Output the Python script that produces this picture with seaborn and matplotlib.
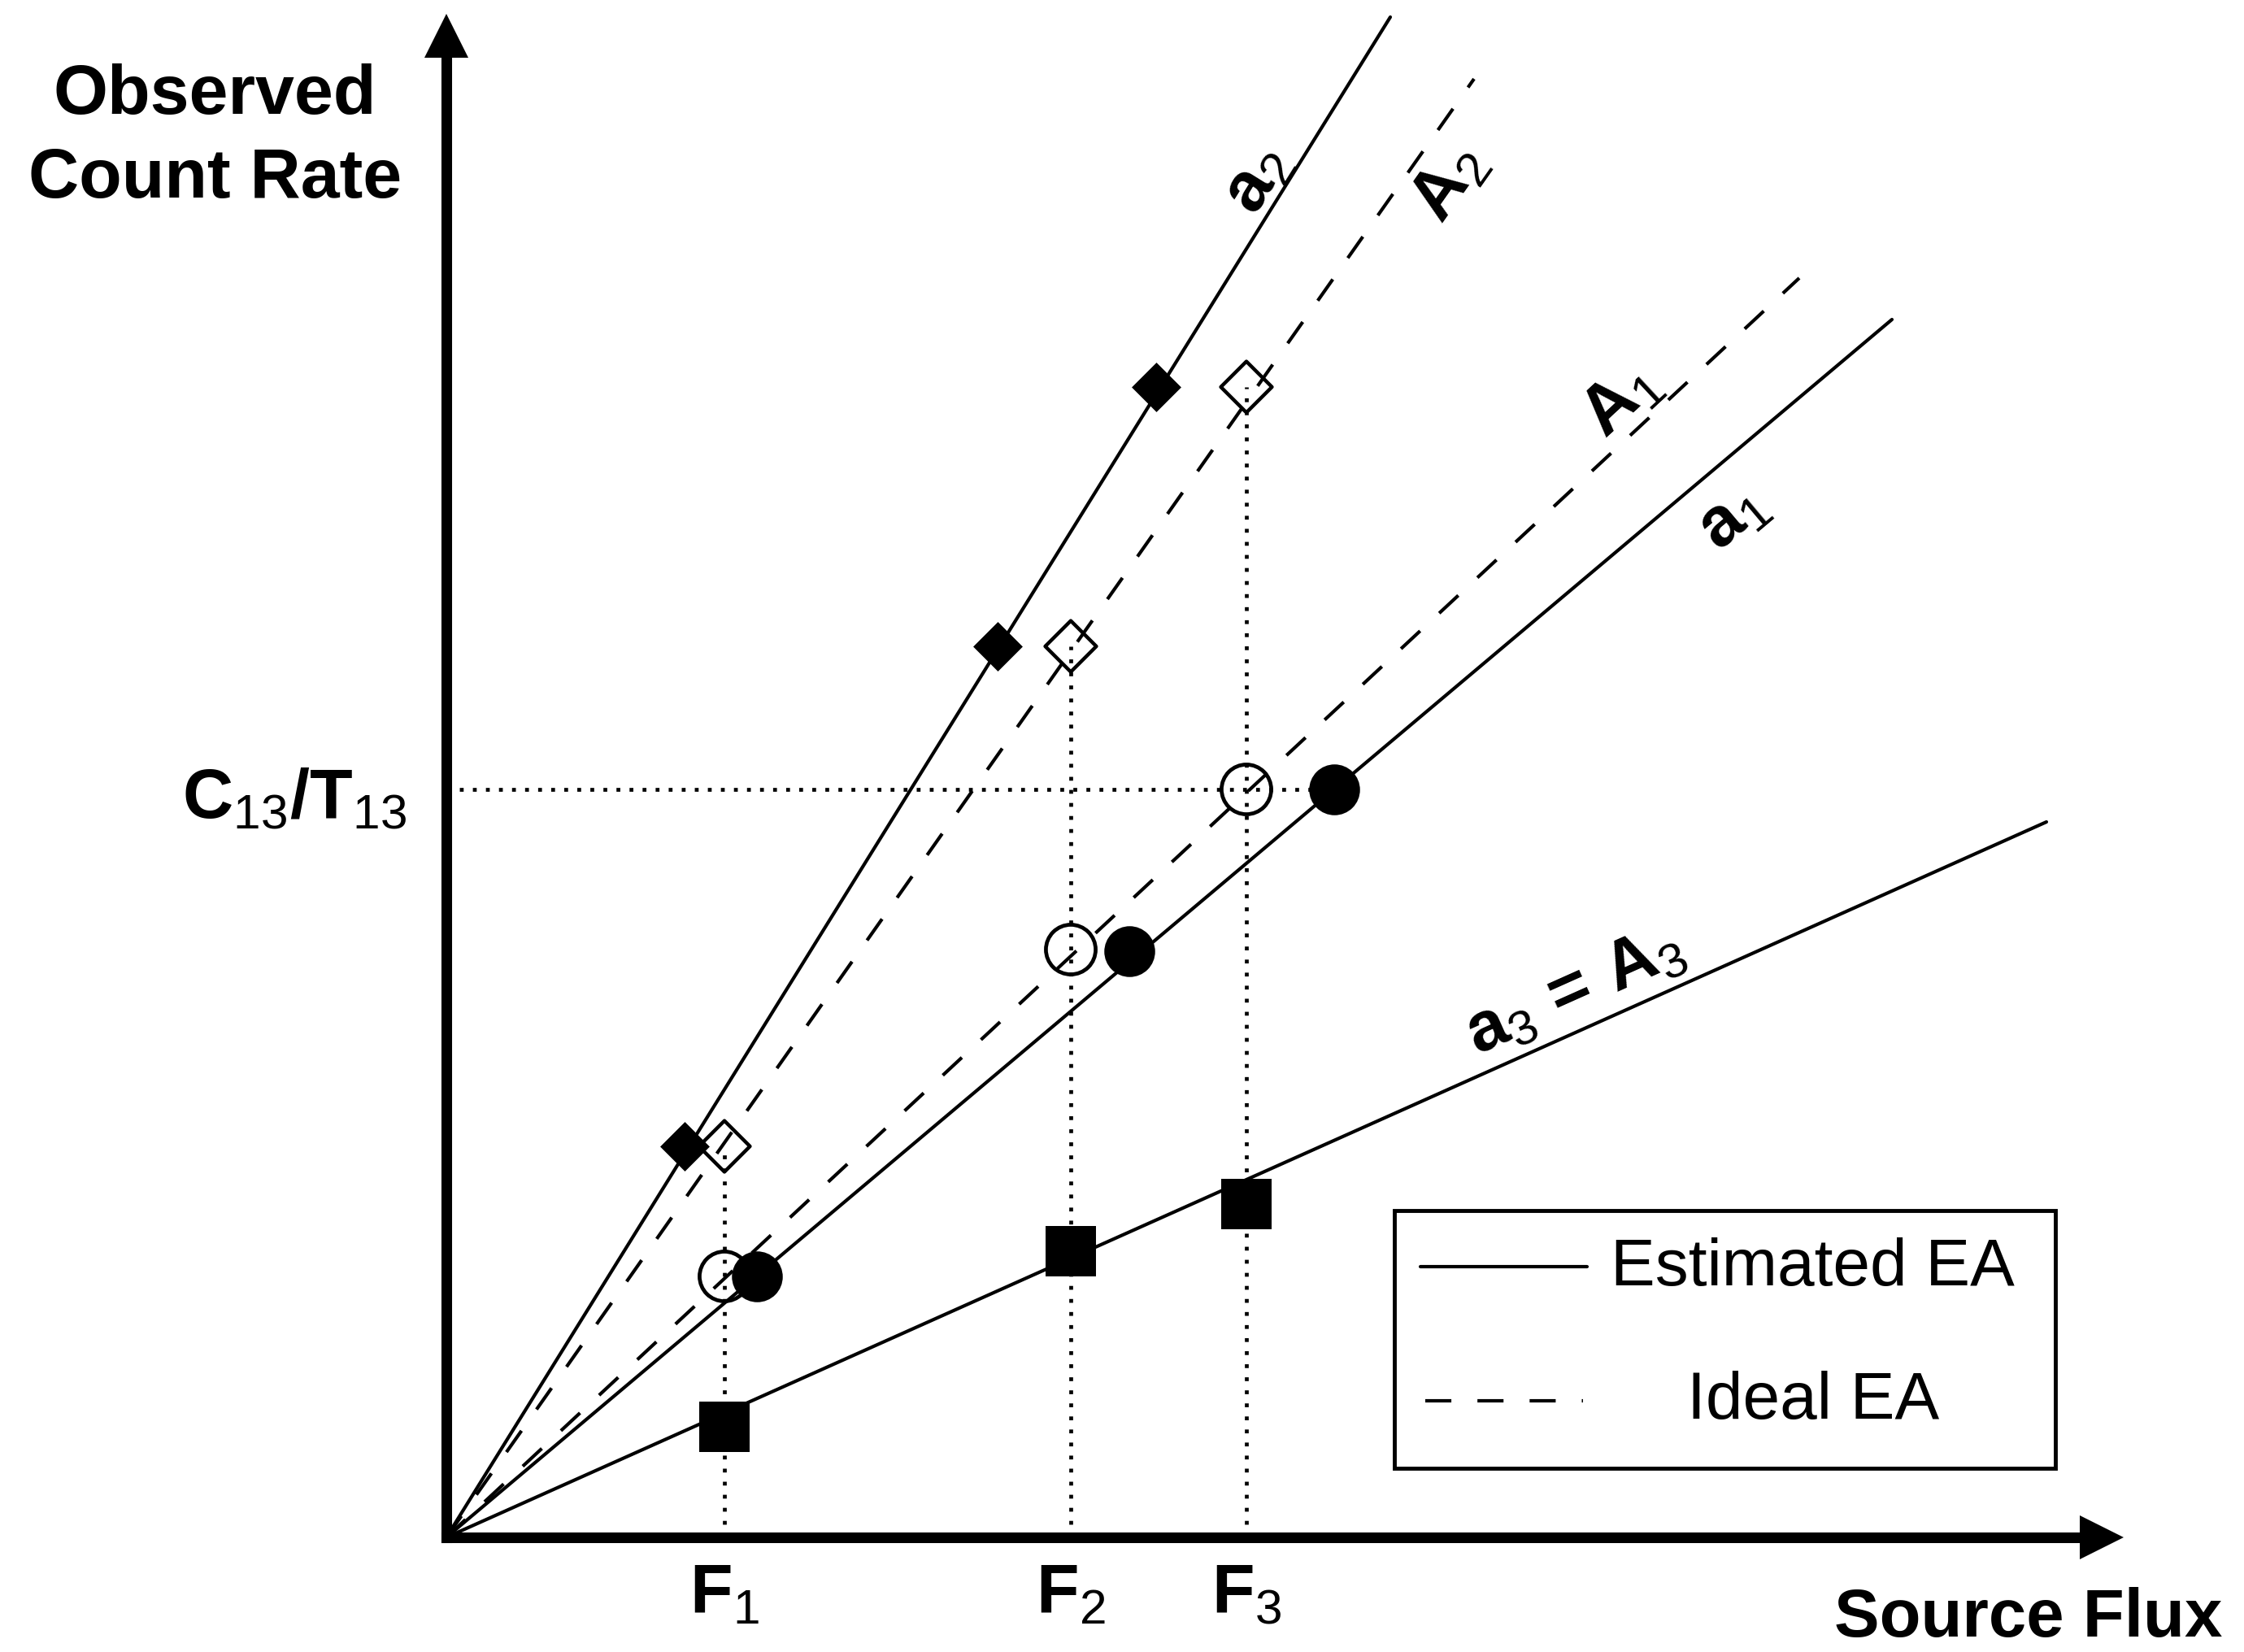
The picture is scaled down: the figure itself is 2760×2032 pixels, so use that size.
import numpy as np
import pandas as pd
import matplotlib
matplotlib.use("Agg")
import matplotlib.pyplot as plt
import seaborn as sns
from matplotlib.patches import Rectangle, Polygon

# ---------------- data (schematic units) ----------------
flux_marks = [3.42, 7.68, 9.84]                 # F1, F2, F3
flux_labels = [r"$\mathbf{F}_{1}$", r"$\mathbf{F}_{2}$", r"$\mathbf{F}_{3}$"]
rate_c13 = 9.20                                 # C13/T13 level

# estimated EA a2 (filled diamonds) / ideal A2 (open diamonds)
a2_x = [2.93, 6.78, 8.73]
a2_y = [4.81, 10.96, 14.15]
A2_y = [4.81, 10.96, 14.15]
# ideal A1 (open circles) / estimated a1 (filled circles)
A1_y = [3.21, 7.23, 9.20]
a1_x = [3.82, 8.40, 10.92]
a1_y = [3.21, 7.21, 9.20]
# a3 = A3 (filled squares)
a3_y = [1.36, 3.52, 4.10]

line_names = ["a2", "A2", "A1", "a1", "a3"]
line_end_x = [11.61, 12.64, 16.64, 17.78, 19.68]
line_end_y = [18.70, 17.94, 15.49, 14.98, 8.80]
line_ideal = [False, True, True, False, False]
line_labels = [r"$\mathbf{a}_{2}$", r"$\mathbf{A}_{2}$", r"$\mathbf{A}_{1}$",
               r"$\mathbf{a}_{1}$", r"$\mathbf{a}_{3}\,\mathbf{=}\,\mathbf{A}_{3}$"]
label_x = [9.98, 12.34, 14.45, 15.82, 13.88]
label_y = [16.70, 16.66, 13.99, 12.55, 6.71]

legend_labels = ["Estimated EA", "Ideal EA"]

# ---------------- style ----------------
sns.set_style("white")
plt.rcParams["font.family"] = ["Liberation Sans", "DejaVu Sans"]
plt.rcParams["text.color"] = "black"
plt.rcParams["mathtext.fontset"] = "custom"
plt.rcParams["mathtext.rm"] = "Liberation Sans"
plt.rcParams["mathtext.bf"] = "Liberation Sans:bold"
plt.rcParams["mathtext.it"] = "Liberation Sans:italic"

fig = plt.figure(figsize=(27.6, 20.32), dpi=100)
ax = fig.add_axes([0, 0, 1, 1])
ax.set_xlim(-5.49, 22.11)
ax.set_ylim(-1.41, 18.91)
ax.axis("off")

LW = 3.0
DASH = (0, (7.7, 7.7))
DOT = (0, (1, 2.4))
FS = 62

# ---------------- axes with arrows ----------------
ax.plot([0, 20.09], [0, 0], color="k", lw=9.4, solid_capstyle="projecting", zorder=5)
ax.plot([0, 0], [0, 18.20], color="k", lw=9.4, solid_capstyle="projecting", zorder=5)
ax.add_patch(Polygon([(20.09, 0.27), (20.09, -0.27), (20.63, 0)], closed=True,
                     color="k", lw=0, zorder=5))
ax.add_patch(Polygon([(-0.27, 18.20), (0.27, 18.20), (0, 18.74)], closed=True,
                     color="k", lw=0, zorder=5))

# ---------------- EA lines ----------------
for name, ex, ey, ideal in zip(line_names, line_end_x, line_end_y, line_ideal):
    df = pd.DataFrame({"flux": [0.0, ex], "rate": [0.0, ey]})
    sns.lineplot(data=df, x="flux", y="rate", ax=ax, color="k", lw=LW,
                 linestyle=DASH if ideal else "-", zorder=2)

# ---------------- dotted guides ----------------
for fx, fy in zip(flux_marks, A2_y):
    ax.plot([fx, fx], [0, fy], color="k", lw=3.4, linestyle=DOT, zorder=1.5)
ax.plot([0, a1_x[2]], [rate_c13, rate_c13], color="k", lw=3.4, linestyle=DOT, zorder=1.5)

# ---------------- markers ----------------
sns.scatterplot(x=a2_x, y=a2_y, ax=ax, marker="D", s=31**2, color="k",
                edgecolor="k", linewidth=0, zorder=3)
sns.scatterplot(x=flux_marks, y=A2_y, ax=ax, marker="D", s=32**2,
                facecolor="none", edgecolor="k", linewidth=3.2, zorder=3)
sns.scatterplot(x=flux_marks, y=A1_y, ax=ax, marker="o", s=44**2,
                facecolor="none", edgecolor="k", linewidth=3.4, zorder=3)
sns.scatterplot(x=a1_x, y=a1_y, ax=ax, marker="o", s=45**2, color="k",
                edgecolor="k", linewidth=0, zorder=3)
sns.scatterplot(x=flux_marks, y=a3_y, ax=ax, marker="s", s=45**2, color="k",
                edgecolor="k", linewidth=0, zorder=3)

# ---------------- line labels ----------------
for lab, lx, ly, ex, ey in zip(line_labels, label_x, label_y, line_end_x, line_end_y):
    rot = np.degrees(np.arctan2(ey, ex))
    ax.text(lx, ly, lab, fontsize=FS, rotation=rot, rotation_mode="anchor",
            ha="center", va="center", color="k")

# ---------------- axis texts ----------------
ax.text(-2.845, 17.51, "Observed", fontsize=FS, fontweight="bold",
        ha="center", va="baseline", color="k")
ax.text(-2.845, 16.48, "Count Rate", fontsize=FS, fontweight="bold",
        ha="center", va="baseline", color="k")
ax.text(21.84, -1.39, "Source Flux", fontsize=60, fontweight="bold",
        ha="right", va="bottom", color="k")
ax.text(-0.49, 8.85, r"$\mathbf{C}_{13}\mathbf{/T}_{13}$", fontsize=FS,
        ha="right", va="baseline", color="k")
for fx, fl in zip(flux_marks, flux_labels):
    ax.text(fx, -0.31, fl, fontsize=FS, ha="center", va="top", color="k")

# ---------------- legend (drawn box) ----------------
ax.add_patch(Rectangle((11.66, 0.85), 19.79 - 11.66, 4.02 - 0.85, fill=False,
                       ec="k", lw=3.5, zorder=4))
ax.plot([11.98, 14.03], [3.335, 3.335], color="k", lw=LW, zorder=4)
ax.plot([12.04, 13.98], [1.68, 1.68], color="k", lw=LW, linestyle=DASH, zorder=4)
ax.text(16.80, 3.31, legend_labels[0], fontsize=59, ha="center", va="center", color="k")
ax.text(16.81, 1.67, legend_labels[1], fontsize=59, ha="center", va="center", color="k")

if ax.get_legend() is not None:
    ax.get_legend().remove()

fig.savefig("out.png", dpi=100)
